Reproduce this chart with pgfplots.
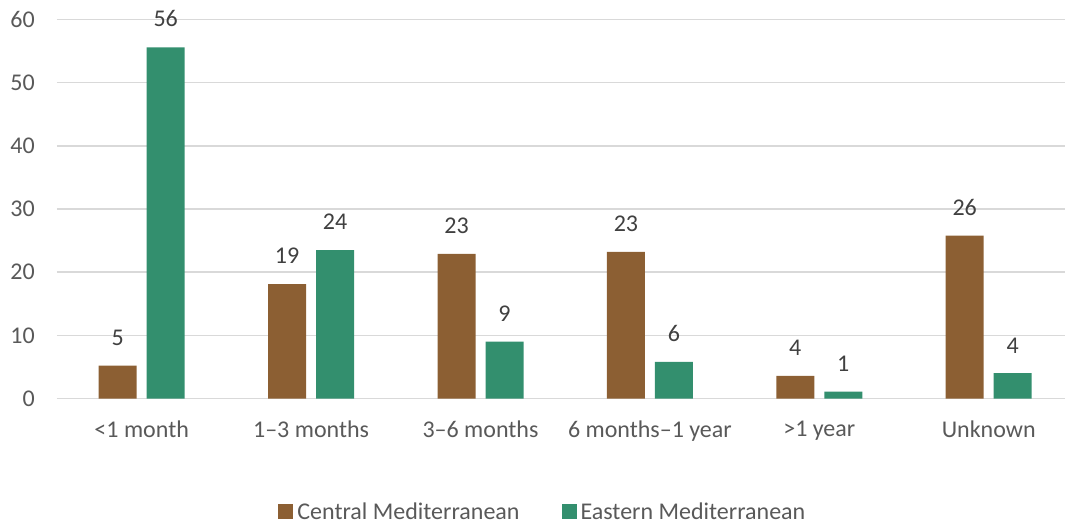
\documentclass[border=0pt]{standalone}
\usepackage{fontspec}
\setmainfont{Carlito}
\usepackage{pgfplots}
\pgfplotsset{compat=1.18}
\definecolor{cmed}{RGB}{140,95,51}
\definecolor{emed}{RGB}{51,143,110}
\definecolor{txt}{RGB}{89,89,89}
\definecolor{lbl}{RGB}{64,64,64}
\definecolor{grid}{RGB}{217,217,217}
\begin{document}
\begin{tikzpicture}
\useasboundingbox (-57pt,-125.5pt) rectangle (1008pt,398.5pt);
\clip (-57pt,-125.5pt) rectangle (1008pt,398.5pt);
\begin{axis}[
    at={(0pt,0pt)}, anchor=south west,
    scale only axis,
    width=1016.5pt, height=379pt,
    ybar=10pt, bar width=38pt,
    xmin=-0.5, xmax=5.5,
    ymin=0, ymax=60,
    ytick={0,10,...,60},
    xtick={0,...,5},
    xticklabels={<1 month, 1–3 months, 3–6 months, 6 months–1 year, >1 year, Unknown},
    axis line style={draw=none},
    major tick length=0pt,
    ymajorgrids,
    grid style={draw=grid, line width=1.6pt},
    /pgf/number format/assume math mode=true,
    tick label style={font=\fontsize{24}{27}\selectfont, text=txt},
    yticklabel style={inner sep=0pt, xshift=-22pt},
    xticklabel style={inner sep=0pt, anchor=north, yshift=-22pt},
    point meta=explicit,
    nodes near coords,
    every node near coord/.append style={font=\fontsize{24}{27}\selectfont, text=lbl, anchor=south, inner sep=0pt, yshift=20pt},
    legend columns=2,
    legend style={draw=none, fill=none, at={(0.478,-0.298)}, anchor=center,
        font=\fontsize{24}{27}\selectfont, text=txt,
        /tikz/every even column/.append style={column sep=40pt}},
    legend image code/.code={\fill[#1] (0pt,-7.5pt) rectangle (15pt,7.5pt); \path (17pt,0pt);},
    clip=false,
]
\addplot[fill=cmed, draw=none] coordinates {
    (0,5.2) [5] (1,18.1) [19] (2,22.9) [23] (3,23.2) [23] (4,3.6) [4] (5,25.8) [26]
};
\addplot[fill=emed, draw=none] coordinates {
    (0,55.6) [56] (1,23.5) [24] (2,9.0) [9] (3,5.8) [6] (4,1.1) [1] (5,4.0) [4]
};
\legend{Central Mediterranean, Eastern Mediterranean}
\end{axis}
\end{tikzpicture}
\end{document}
